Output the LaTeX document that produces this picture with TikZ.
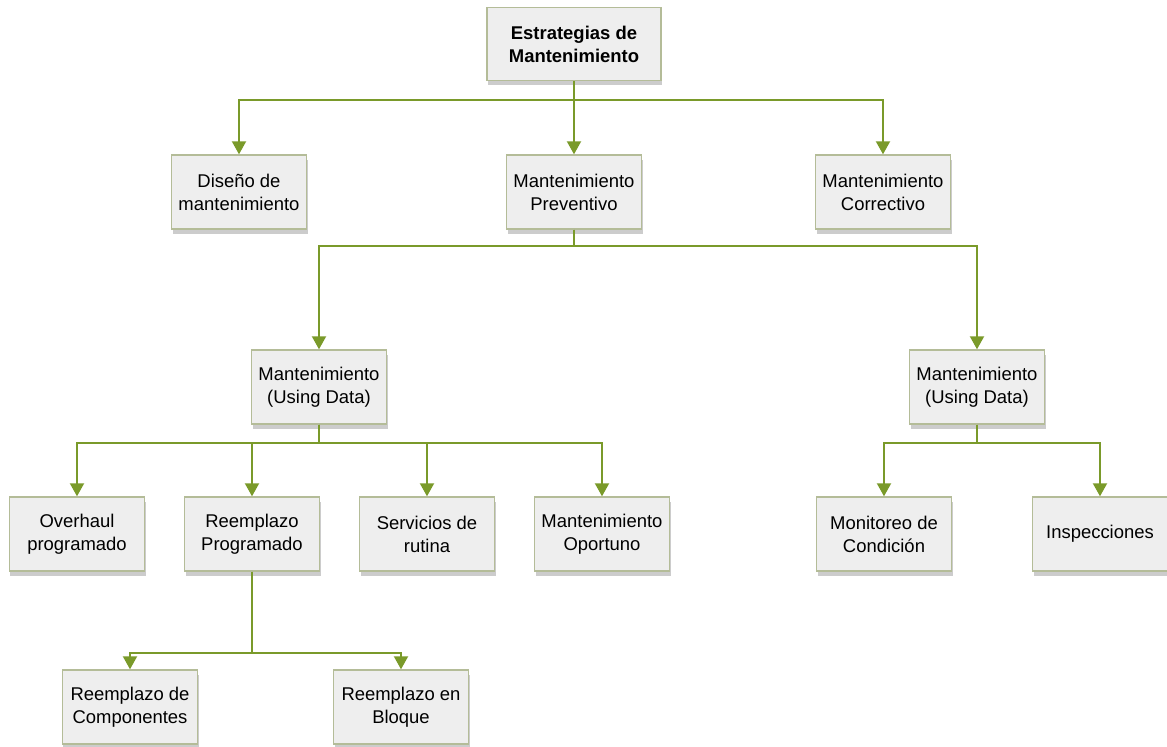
\documentclass[tikz,border=0pt]{standalone}
\usepackage{fontspec}
\setmainfont{Liberation Sans}
\usepackage{xcolor}
\usetikzlibrary{arrows.meta, shadows, positioning}

\definecolor{lineolive}{HTML}{7A9A2A}
\definecolor{boxedge}{HTML}{B4BC98}
\definecolor{boxfill}{HTML}{EEEEEE}

\begin{document}
\begin{tikzpicture}[
    x=0.2mm, y=-0.2mm,
    box/.style={draw=boxedge, line width=0.8pt, fill=boxfill, minimum width=27mm, minimum height=14.8mm,
        align=center, font=\fontsize{10.5}{13}\selectfont,
        drop shadow={shadow xshift=0.2mm, shadow yshift=-0.9mm, opacity=0.2, fill=black}},
    arrow/.style={-{Triangle[width=2.8mm, length=2.6mm]}, draw=lineolive, line width=1.1pt}
]
    \useasboundingbox (0,0) rectangle (1167,747);

    % Top level
    \node[box, minimum width=34.8mm, minimum height=14.6mm, font=\fontsize{10.5}{13}\selectfont\bfseries] (estrategias) at (574,44) {Estrategias de\\Mantenimiento};

    % Second level
    \node[box] (diseno) at (239,192) {Diseño de\\mantenimiento};
    \node[box] (preventivo) at (574,192) {Mantenimiento\\Preventivo};
    \node[box] (correctivo) at (883,192) {Mantenimiento\\Correctivo};

    % Third level
    \node[box] (datosizq) at (319,387) {Mantenimiento\\(Using Data)};
    \node[box] (datosder) at (977,387) {Mantenimiento\\(Using Data)};

    % Fourth level - left
    \node[box] (overhaul) at (77,534) {Overhaul\\programado};
    \node[box] (programado) at (252,534) {Reemplazo\\Programado};
    \node[box] (servicios) at (427,534) {Servicios de\\rutina};
    \node[box] (oportuno) at (602,534) {Mantenimiento\\Oportuno};

    % Fourth level - right
    \node[box] (monitoreo) at (884,534) {Monitoreo de\\Condición};
    \node[box] (inspecciones) at (1100,534) {Inspecciones};

    % Fifth level
    \node[box] (componentes) at (130,707) {Reemplazo de\\Componentes};
    \node[box] (bloque) at (401,707) {Reemplazo en\\Bloque};

    % Arrows
    \draw[arrow] (estrategias.south) -- ++(0,19) -| (diseno.north);
    \draw[arrow] (estrategias.south) -- (preventivo.north);
    \draw[arrow] (estrategias.south) -- ++(0,19) -| (correctivo.north);

    \draw[arrow] (preventivo.south) -- ++(0,16) -| (datosizq.north);
    \draw[arrow] (preventivo.south) -- ++(0,16) -| (datosder.north);

    \draw[arrow] (datosizq.south) -- ++(0,18) -| (overhaul.north);
    \draw[arrow] (datosizq.south) -- ++(0,18) -| (programado.north);
    \draw[arrow] (datosizq.south) -- ++(0,18) -| (servicios.north);
    \draw[arrow] (datosizq.south) -- ++(0,18) -| (oportuno.north);

    \draw[arrow] (datosder.south) -- ++(0,18) -| (monitoreo.north);
    \draw[arrow] (datosder.south) -- ++(0,18) -| (inspecciones.north);

    \draw[arrow] (programado.south) -- ++(0,81) -| (componentes.north);
    \draw[arrow] (programado.south) -- ++(0,81) -| (bloque.north);
\end{tikzpicture}
\end{document}
